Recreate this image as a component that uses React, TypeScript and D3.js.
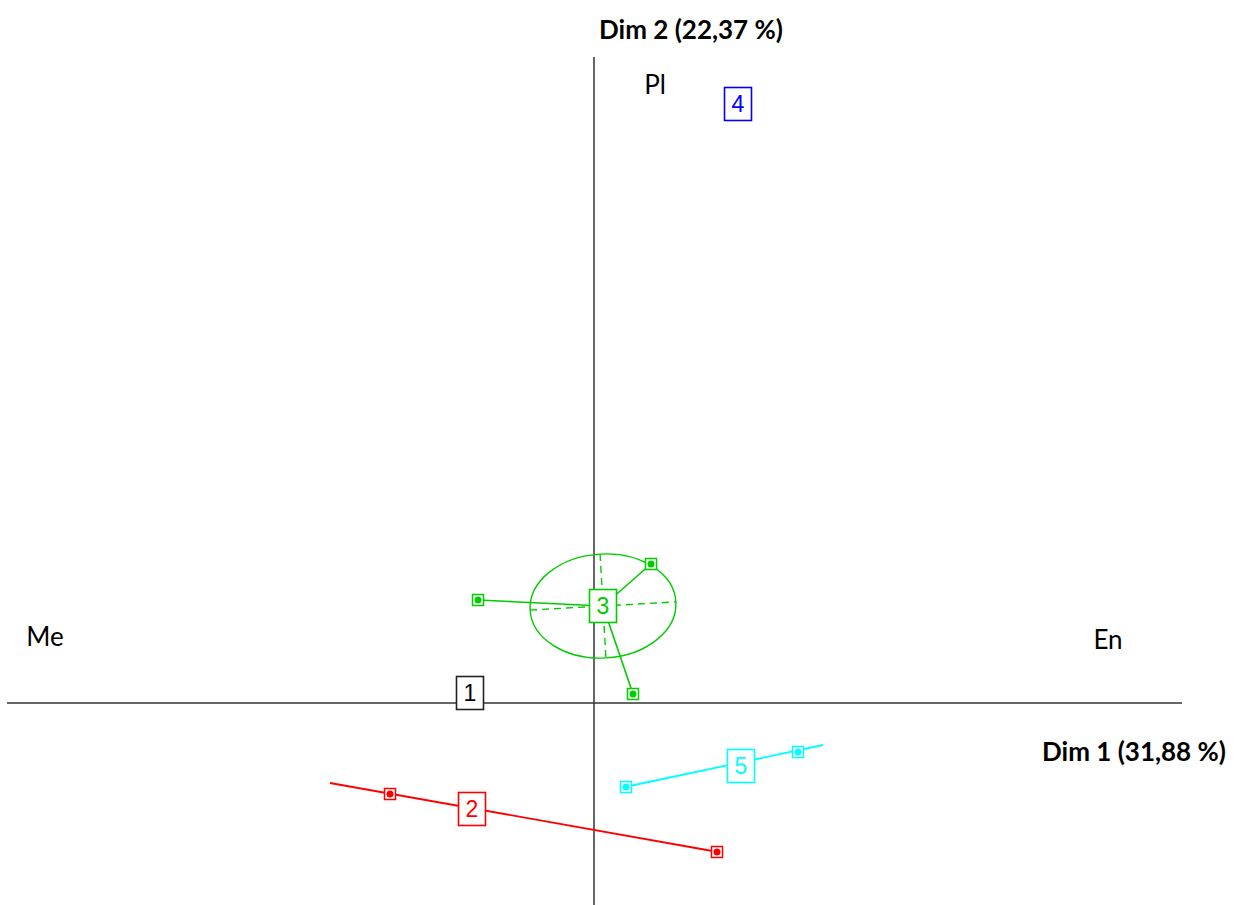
import React from 'react'
import * as d3 from 'd3'

// group labels and centres (factor map units)
const groupNames = ['1', '2', '3', '4', '5']
const groupColors = ['#000000', '#ff0000', '#00cc00', '#0000ff', '#00ffff']
const centerX = [-1.24, -1.22, 0.09, 1.44, 1.47]
const centerY = [0.1, -1.06, 0.97, 5.99, -0.63]

// individual points of groups 2, 3, 5
const pointsGroup = ['2', '2', '3', '3', '3', '5', '5']
const pointsX = [-2.04, 1.23, -1.16, 0.57, 0.39, 0.32, 2.04]
const pointsY = [-0.91, -1.49, 1.03, 1.39, 0.09, -0.84, -0.49]

// fitted lines for groups 2 and 5
const lineGroup = ['2', '5']
const lineX1 = [-2.64, 0.31]
const lineY1 = [-0.8, -0.84]
const lineX2 = [1.24, 2.29]
const lineY2 = [-1.49, -0.42]

// ellipse of group 3
const ellipseRx = 0.73
const ellipseRy = 0.52
const ellipseAngle = -3.2

// pole labels
const poleNames = ['Me', 'En', 'Pl']
const poleX = [-5.49, 5.14, 0.61]
const poleY = [0.66, 0.63, 6.18]

const dimLabel1 = 'Dim 1 (31,88 %)'
const dimLabel2 = 'Dim 2 (22,37 %)'

const W = 1236, H = 905

const App = () => {
    const x = d3.scaleLinear().domain([-5.87, 5.88]).range([7, 1182])
    const y = d3.scaleLinear().domain([-2.02, 6.46]).range([905, 57])
    const col = (g) => groupColors[groupNames.indexOf(g)]

    const i3 = groupNames.indexOf('3')
    const cx3 = x(centerX[i3]), cy3 = y(centerY[i3])
    const rx = x(ellipseRx) - x(0), ry = y(0) - y(ellipseRy)

    return (
        <svg width={W} height={H} style={{ position: 'absolute', left: 0, top: 0 }}>
            <rect width={W} height={H} fill="#fff" />
            {/* axes */}
            <line x1={x(-5.87)} x2={x(5.88)} y1={y(0)} y2={y(0)} stroke="#333" strokeWidth={1.5} />
            <line x1={x(0)} x2={x(0)} y1={y(6.46)} y2={y(-2.02)} stroke="#333" strokeWidth={1.5} />

            {/* group 3 ellipse and spokes */}
            <g transform={`translate(${cx3},${cy3}) rotate(${ellipseAngle})`} stroke={col('3')} strokeWidth={1.4} fill="none">
                <ellipse rx={rx} ry={ry} />
                <line x1={-rx} x2={rx} y1={0} y2={0} strokeDasharray="7,5" />
                <line x1={0} x2={0} y1={-ry} y2={ry} strokeDasharray="7,5" />
            </g>
            {pointsGroup.map((g, i) => g === '3' ? (
                <line key={'s' + i} x1={cx3} y1={cy3} x2={x(pointsX[i])} y2={y(pointsY[i])} stroke={col('3')} strokeWidth={1.6} />
            ) : null)}

            {/* fitted lines */}
            {lineGroup.map((g, i) => (
                <line key={'l' + i} x1={x(lineX1[i])} y1={y(lineY1[i])} x2={x(lineX2[i])} y2={y(lineY2[i])} stroke={col(g)} strokeWidth={1.8} />
            ))}

            {/* points */}
            {pointsGroup.map((g, i) => (
                <g key={'p' + i} transform={`translate(${x(pointsX[i])},${y(pointsY[i])})`}>
                    <rect x={-5.5} y={-5.5} width={11} height={11} fill="#fff" stroke={col(g)} strokeWidth={1.5} />
                    <circle r={3.5} fill={col(g)} />
                </g>
            ))}

            {/* group boxes */}
            {groupNames.map((g, i) => (
                <g key={'b' + i} transform={`translate(${x(centerX[i])},${y(centerY[i])})`}>
                    <rect x={-13.5} y={-16.5} width={27} height={33} fill="#fff" stroke={groupColors[i] === '#000000' ? '#222' : groupColors[i]} strokeWidth={1.6} />
                    <text textAnchor="middle" dy="0.36em" fontFamily="Liberation Sans, Arial, sans-serif" fontSize={23} fill={groupColors[i]}>{g}</text>
                </g>
            ))}

            {/* pole labels */}
            {poleNames.map((p, i) => (
                <text key={'n' + i} x={x(poleX[i])} y={y(poleY[i])} textAnchor="middle" dy="0.35em" fontFamily="Lato, 'Open Sans', sans-serif" fontSize={26} fill="#000">{p}</text>
            ))}

            <text x={691} y={30} textAnchor="middle" dy="0.35em" fontFamily="Lato, 'Open Sans', sans-serif" fontWeight="bold" fontSize={26} fill="#000">{dimLabel2}</text>
            <text x={1134} y={752} textAnchor="middle" dy="0.35em" fontFamily="Lato, 'Open Sans', sans-serif" fontWeight="bold" fontSize={26} fill="#000">{dimLabel1}</text>
        </svg>
    )
}

export default App
